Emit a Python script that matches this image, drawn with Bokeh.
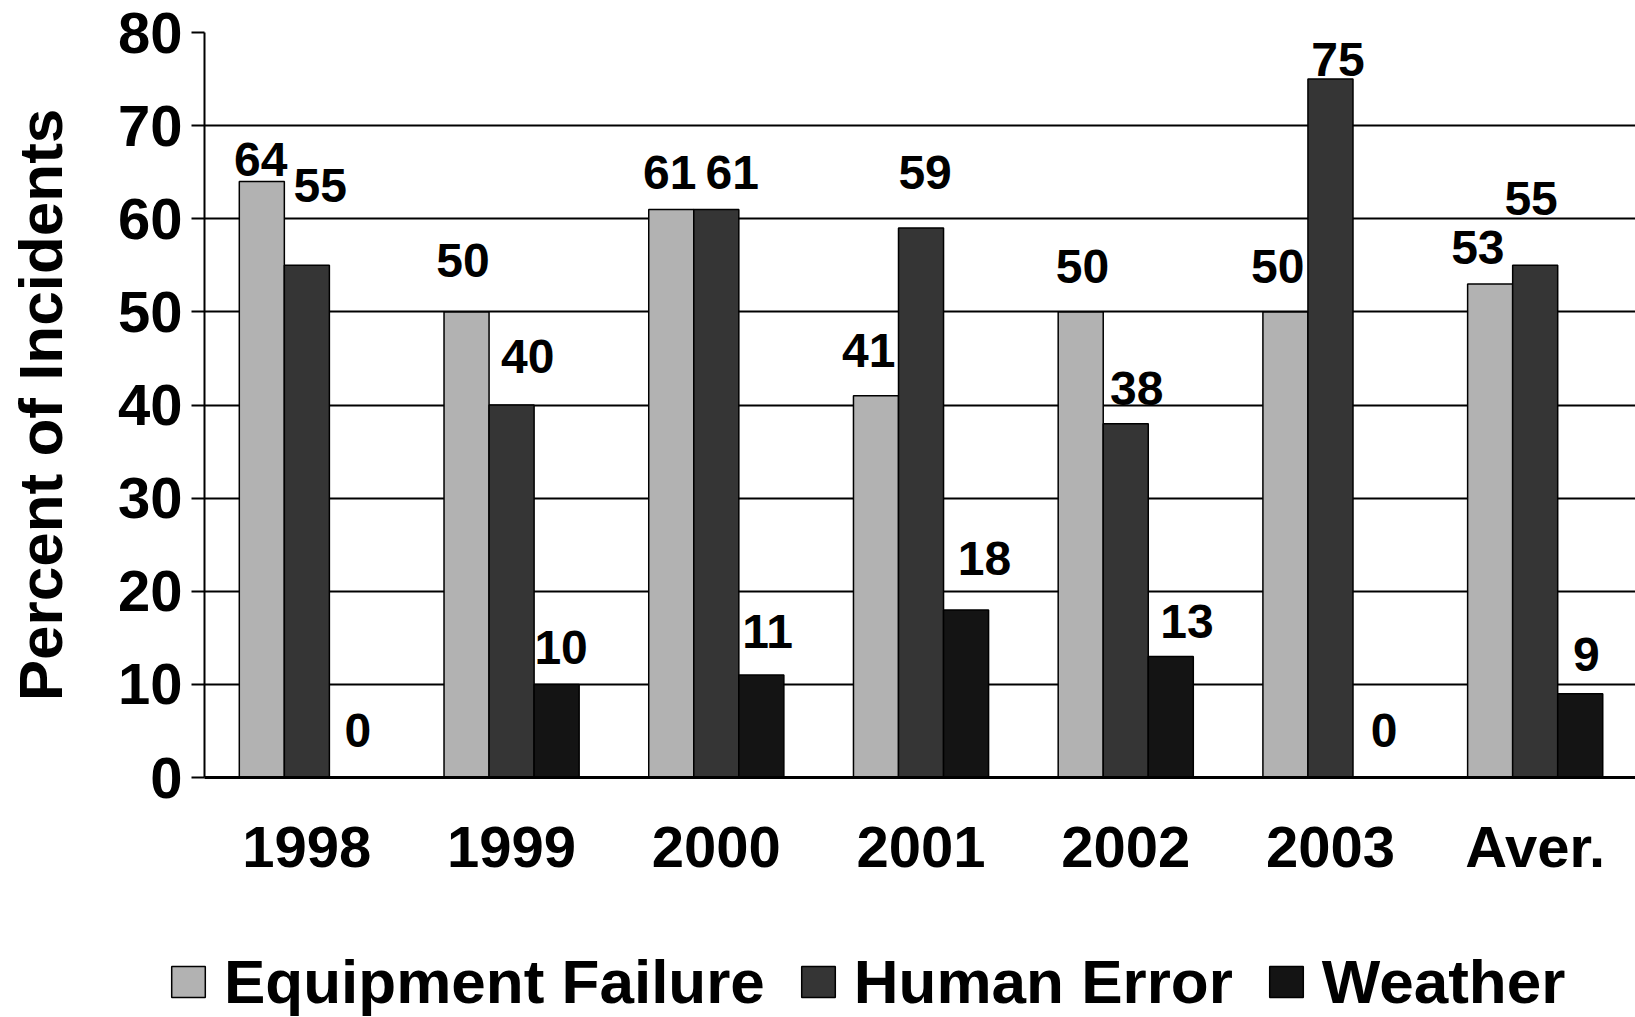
from bokeh.plotting import figure
from bokeh.layouts import column
from bokeh.models import Range1d, FixedTicker, Legend, LegendItem, ColumnDataSource
from bokeh.core.properties import value
from bokeh.embed import file_html
from bokeh.resources import INLINE

# ---- data ----
categories = ["1998", "1999", "2000", "2001", "2002", "2003", "Aver."]
equipment_failure = [64, 50, 61, 41, 50, 50, 53]
human_error = [55, 40, 61, 59, 38, 75, 55]
weather = [0, 10, 11, 18, 13, 0, 9]
series_names = ["Equipment Failure", "Human Error", "Weather"]
y_ticks = [0, 10, 20, 30, 40, 50, 60, 70, 80]

# label nudges (data units) relative to the top/centre of each bar
ef_label_dx = [-0.005, -0.017, -0.008, -0.035, 0.009, -0.038, -0.06]
he_label_dx = [0.065, 0.079, 0.078, 0.02, 0.054, 0.037, -0.02]
w_label_dx = [0.029, 0.022, 0.031, 0.09, 0.079, 0.042, 0.03]
ef_label_dy = [2.4, 5.5, 4.0, 4.9, 4.9, 4.9, 3.9]
he_label_dy = [8.6, 5.2, 4.0, 6.0, 3.8, 2.1, 7.2]
w_label_dy = [5.0, 4.0, 4.7, 5.5, 3.8, 5.0, 4.2]

FONT = value("Liberation Sans")
colors = ["#b2b2b2", "#353535", "#141414"]
bar_w = 0.22
offsets = [-bar_w, 0.0, bar_w]

TOP_H = 897
LEG_H = 1017 - TOP_H

p = figure(frame_width=1431, frame_height=745, output_backend="svg", toolbar_location=None,
           x_range=Range1d(0, 6.99), y_range=Range1d(0, 80),
           min_border_left=204, min_border_right=0, min_border_top=32,
           min_border_bottom=TOP_H - 32 - 745)
p.outline_line_color = None
p.background_fill_color = "white"
p.frame_align = False

xs = [i + 0.5 for i in range(len(categories))]
series = [equipment_failure, human_error, weather]
dxs = [ef_label_dx, he_label_dx, w_label_dx]
dys = [ef_label_dy, he_label_dy, w_label_dy]

sources = []
for k, vals in enumerate(series):
    src = ColumnDataSource(dict(x=[x + offsets[k] for x in xs], top=vals))
    sources.append(src)
    p.vbar(x="x", top="top", width=bar_w, source=src,
           fill_color=colors[k], line_color="black", line_width=1.5)

for k, vals in enumerate(series):
    lsrc = ColumnDataSource(dict(
        x=[x + offsets[k] + dx for x, dx in zip(xs, dxs[k])],
        y=[v + dy for v, dy in zip(vals, dys[k])],
        t=[str(v) for v in vals]))
    p.text(x="x", y="y", text="t", source=lsrc, text_font=FONT,
           text_font_style="bold", text_font_size="48px",
           text_align="center", text_baseline="middle", text_color="black")

# grid
p.xgrid.grid_line_color = None
p.ygrid.ticker = FixedTicker(ticks=y_ticks)
p.ygrid.grid_line_color = "black"
p.ygrid.grid_line_width = 2

# y axis
p.yaxis.ticker = FixedTicker(ticks=y_ticks)
p.yaxis.axis_label = "Percent of Incidents"
p.yaxis.axis_label_text_font = "Liberation Sans"
p.yaxis.axis_label_text_font_style = "bold"
p.yaxis.axis_label_text_font_size = "62px"
p.yaxis.axis_label_text_color = "black"
p.yaxis.axis_label_standoff = 40
p.yaxis.major_label_text_font = "Liberation Sans"
p.yaxis.major_label_text_font_style = "bold"
p.yaxis.major_label_text_font_size = "58px"
p.yaxis.major_label_text_color = "black"
p.yaxis.major_label_standoff = 9
p.yaxis.major_tick_out = 13
p.yaxis.major_tick_in = 0
p.yaxis.minor_tick_line_color = None
p.yaxis.axis_line_width = 2
p.yaxis.major_tick_line_width = 2
p.yaxis.axis_line_color = "black"
p.yaxis.major_tick_line_color = "black"

# x axis
p.xaxis.ticker = FixedTicker(ticks=xs)
p.xaxis.major_label_overrides = {x: c for x, c in zip(xs, categories)}
p.xaxis.major_label_text_font = "Liberation Sans"
p.xaxis.major_label_text_font_style = "bold"
p.xaxis.major_label_text_font_size = "58px"
p.xaxis.major_label_text_color = "black"
p.xaxis.major_label_standoff = 36
p.xaxis.major_tick_out = 0
p.xaxis.major_tick_in = 0
p.xaxis.minor_tick_line_color = None
p.xaxis.axis_line_width = 3
p.xaxis.axis_line_color = "black"

# ---- legend strip under the chart (hidden proxy renderers supply the swatches) ----
lg = figure(width=1635, height=LEG_H, output_backend="svg", toolbar_location=None,
            x_range=Range1d(0, 6.99), y_range=Range1d(1000, 1001),
            x_axis_type=None, y_axis_type=None,
            min_border_left=0, min_border_right=0, min_border_top=0, min_border_bottom=0)
lg.outline_line_color = None
lg.xgrid.visible = False
lg.ygrid.visible = False
lg.frame_align = False

leg_renderers = []
for k, name in enumerate(series_names):
    r = lg.vbar(x="x", top="top", width=bar_w, source=sources[k],
                fill_color=colors[k], line_color="black", line_width=1.5)
    r.visible = False
    leg_renderers.append(r)

legend = Legend(items=[LegendItem(label=n, renderers=[r]) for n, r in zip(series_names, leg_renderers)],
                orientation="horizontal", location=(167, 0), ncols=3,
                glyph_width=42, glyph_height=39, label_standoff=15, spacing=32,
                padding=0, margin=0, border_line_color=None,
                background_fill_alpha=0, click_policy="none",
                label_text_font="Liberation Sans", label_text_font_style="bold",
                label_text_font_size="62px", label_text_color="black")
lg.add_layout(legend, "center")

layout = column(p, lg, spacing=0)
open("out.html", "w").write(file_html(layout, INLINE))
